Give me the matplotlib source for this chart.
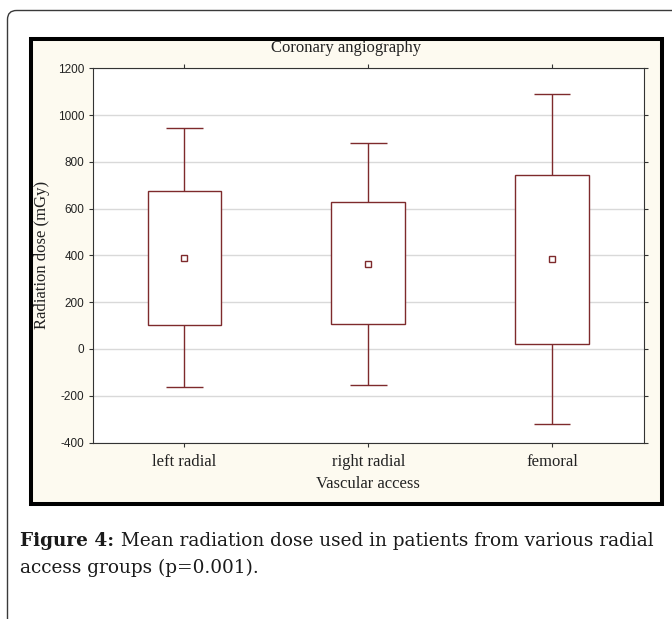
import numpy as np
import matplotlib
matplotlib.use("Agg")
import matplotlib.pyplot as plt
from matplotlib.patches import FancyBboxPatch, Rectangle

# Data (mGy)
categories = ["left radial", "right radial", "femoral"]
mean_dose = [390, 363, 384]
box_upper = [676, 630, 745]
box_lower = [104, 105, 22]
whisker_upper = [944, 880, 1091]
whisker_lower = [-163, -154, -321]
y_ticks = [-400, -200, 0, 200, 400, 600, 800, 1000, 1200]
y_tick_labels = ["-400", "-200", "0", "200", "400", "600", "800", "1000", "1200"]

W, H = 672, 619
maroon = "#7e2a2c"
serif = ["Liberation Serif", "DejaVu Serif"]
sans = ["Liberation Sans", "DejaVu Sans"]

fig = plt.figure(figsize=(W / 100, H / 100), dpi=100)
fig.patch.set_facecolor("white")

# page layer, pixel units with y going down
page = fig.add_axes([0, 0, 1, 1], zorder=0)
page.set_xlim(0, W)
page.set_ylim(H, 0)
page.axis("off")

# rounded page box (only left/top visible)
page.add_patch(FancyBboxPatch((7.5, 10.5), 800, 800,
                              boxstyle="round,pad=0,rounding_size=9",
                              fc="none", ec="#3a3a3a", lw=1.0))
# black framed chart panel
page.add_patch(Rectangle((31, 39), 631, 465, fc="#fdfaf0", ec="black", lw=2.9))

# plot area
x0, x1, y0, y1 = 92.5, 644, 68.3, 442.5
ax = fig.add_axes([x0 / W, 1 - y1 / H, (x1 - x0) / W, (y1 - y0) / H], zorder=1)
ax.set_facecolor("white")

x = np.arange(1, len(categories) + 1)
lo = np.array(box_lower)
hi = np.array(box_upper)

ax.bar(x, hi - lo, bottom=lo, width=0.4, color="white", edgecolor=maroon,
       linewidth=1.0, zorder=3)
ax.vlines(x, hi, whisker_upper, color=maroon, lw=1.0, zorder=3)
ax.vlines(x, whisker_lower, lo, color=maroon, lw=1.0, zorder=3)
ax.hlines(whisker_upper, x - 0.1, x + 0.1, color=maroon, lw=1.0, zorder=3)
ax.hlines(whisker_lower, x - 0.1, x + 0.1, color=maroon, lw=1.0, zorder=3)
ax.plot(x, mean_dose, ls="none", marker="s", ms=4, mfc="white", mec=maroon,
        mew=1.0, zorder=4)

ax.set_xlim(0.5, 3.5)
ax.set_ylim(-400, 1200)
ax.set_yticks(y_ticks)
ax.set_yticklabels(y_tick_labels, fontfamily=sans, fontsize=8.5, color="#222222")
ax.set_xticks(x)
ax.set_xticklabels(categories, fontfamily=serif, fontsize=12, color="#222222")
ax.yaxis.grid(True, color="#d9d9d9", lw=1.0)
ax.set_axisbelow(True)
ax.tick_params(direction="out", length=3, width=0.8, color="#333333",
               top=True, right=True)
ax.tick_params(axis="y", pad=3)
ax.tick_params(axis="x", pad=5)
for s in ax.spines.values():
    s.set_color("#333333")
    s.set_linewidth(0.8)

# chart texts
page.text(346, 48, "Coronary angiography", ha="center", va="center",
          fontfamily=serif, fontsize=12, color="#222222")
page.text(368, 484, "Vascular access", ha="center", va="center",
          fontfamily=serif, fontsize=12, color="#222222")
page.text(42, 255, "Radiation dose (mGy)", ha="center", va="center",
          rotation=90, fontfamily=serif, fontsize=12, color="#222222")

# caption
cap = dict(fontfamily="DejaVu Serif", fontsize=13.3, color="#1a1a1a")
t1 = page.text(20.5, 546, "Figure 4:", fontweight="bold", va="baseline", **cap)
page.annotate(" Mean radiation dose used in patients from various radial",
              xy=(1, 0), xycoords=t1, va="bottom", ha="left", **cap)
page.text(20.5, 573, "access groups (p=0.001).", va="baseline", **cap)

fig.savefig("out.png", dpi=100)
